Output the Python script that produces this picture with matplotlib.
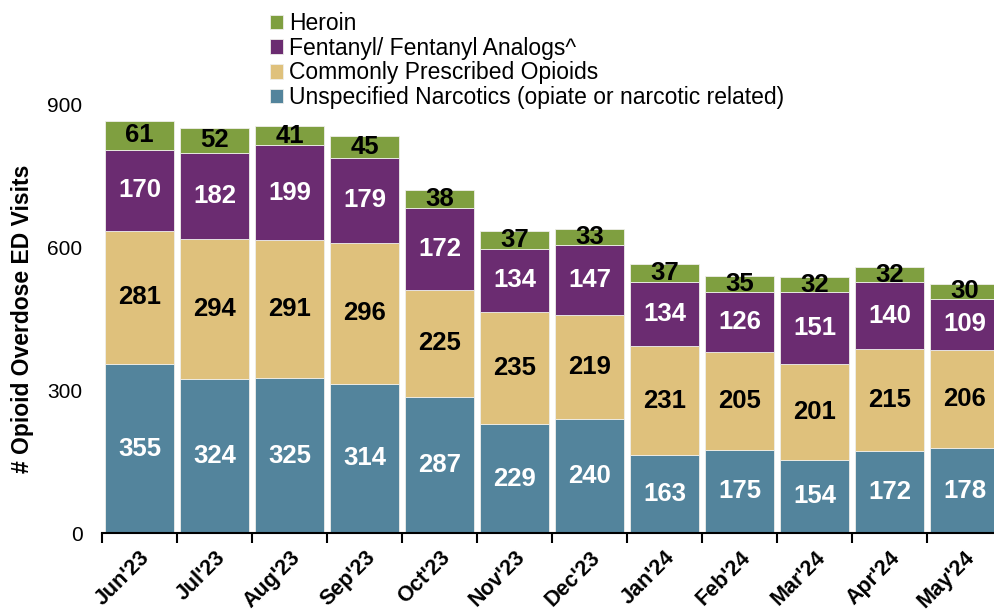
import matplotlib
matplotlib.use("Agg")
import matplotlib.pyplot as plt
import numpy as np

plt.rcParams['font.family'] = ['Liberation Sans', 'DejaVu Sans']

months = ["Jun'23", "Jul'23", "Aug'23", "Sep'23", "Oct'23", "Nov'23",
          "Dec'23", "Jan'24", "Feb'24", "Mar'24", "Apr'24", "May'24"]
unspecified = [355, 324, 325, 314, 287, 229, 240, 163, 175, 154, 172, 178]
prescribed = [281, 294, 291, 296, 225, 235, 219, 231, 205, 201, 215, 206]
fentanyl = [170, 182, 199, 179, 172, 134, 147, 134, 126, 151, 140, 109]
heroin = [61, 52, 41, 45, 38, 37, 33, 37, 35, 32, 32, 30]

series = [
    ("Unspecified Narcotics (opiate or narcotic related)", unspecified, "#53849c", "white"),
    ("Commonly Prescribed Opioids", prescribed, "#dfc17c", "black"),
    ("Fentanyl/ Fentanyl Analogs^", fentanyl, "#6b2c71", "white"),
    ("Heroin", heroin, "#7f9f40", "black"),
]

fig = plt.figure(figsize=(9.94, 6.15), dpi=100)
ax = fig.add_axes([0.1026, 0.1333, 0.9054, 0.696])

x = np.arange(len(months))
bottom = np.zeros(len(months))
handles = []
for name, vals, color, tcol in series:
    vals = np.array(vals, dtype=float)
    b = ax.bar(x, vals, 0.91, bottom=bottom, color=color, edgecolor="#eeeeea",
               linewidth=0.6, label=name)
    handles.append(b)
    for xi, v, bt in zip(x, vals, bottom):
        ax.text(xi, bt + v / 2, f"{int(v)}", ha="center", va="center",
                color=tcol, fontsize=18.5, fontweight="bold")
    bottom += vals

ax.set_xlim(-0.5, len(months) - 0.5)
ax.set_ylim(0, 900)
ax.set_yticks([0, 300, 600, 900])
ax.tick_params(axis="y", length=0, labelsize=15, pad=14)

ax.set_xticks(x)
ax.set_xticklabels(months, rotation=45, ha="right", rotation_mode="anchor",
                   fontsize=15.5, fontweight="bold")
ax.tick_params(axis="x", which="major", length=0, pad=10)
ax.set_xticks(np.arange(-0.5, len(months)), minor=True)
ax.tick_params(axis="x", which="minor", length=7, width=1.5, color="black")

for s in ["top", "right", "left"]:
    ax.spines[s].set_visible(False)
ax.spines["bottom"].set_linewidth(1.5)

ax.set_ylabel("# Opioid Overdose ED Visits", fontsize=16.5, fontweight="bold", labelpad=10)

fig.legend(handles[::-1], [s[0] for s in series][::-1], loc="upper left",
           bbox_to_anchor=(0.262, 0.995), frameon=False, fontsize=16.5,
           handlelength=0.6, handleheight=0.6, handletextpad=0.25,
           labelspacing=0.07, borderaxespad=0)

fig.savefig("out.png", dpi=100)
